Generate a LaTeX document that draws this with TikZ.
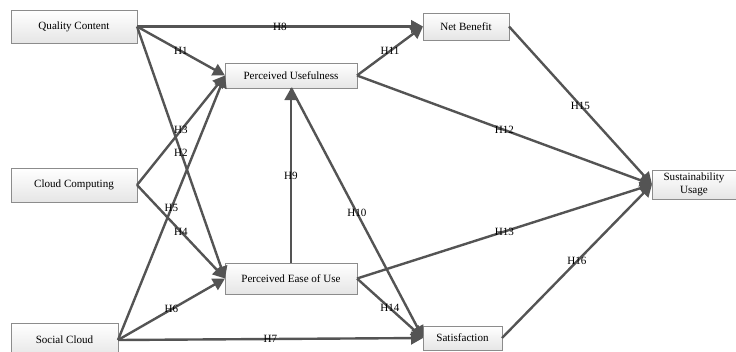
\documentclass[tikz,border=0pt]{standalone}
\usepackage{fontspec}
\setmainfont{Liberation Serif}
\usetikzlibrary{positioning,arrows.meta}

\begin{document}
\begin{tikzpicture}[
  x=0.75pt, y=-0.75pt, font=\fontsize{8.3}{9.5}\selectfont,
  construct/.style={draw=black!45, line width=0.5pt, top color=white,
    bottom color=black!10, align=center, inner sep=1pt, outer sep=0pt},
  link/.style={-{Triangle[length=9pt,width=9.5pt]}, draw=black!67,
    line width=1.8pt},
  hyp/.style={midway, inner sep=0pt, text=black}
]
% Canvas in pixels of the 736 by 351 reference.
\useasboundingbox (0,0) rectangle (736,351);

% Exogenous constructs on the left.
\node[construct, minimum width=94.5pt, minimum height=24.75pt] (qc) at (74,26.5) {Quality Content};
\node[construct, minimum width=94.5pt, minimum height=25.5pt] (cc) at (74,185) {Cloud Computing};
\node[construct, minimum width=80.25pt, minimum height=25.5pt] (sc) at (64.5,340) {Social Cloud};

% Middle constructs.
\node[construct, minimum width=99pt, minimum height=18.75pt] (pu) at (291,75.5) {Perceived Usefulness};
\node[construct, minimum width=99pt, minimum height=23.25pt] (peou) at (291,278.5) {Perceived Ease of Use};
\node[construct, minimum width=64.5pt, minimum height=20.25pt] (nb) at (466,26.5) {Net Benefit};
\node[construct, minimum width=59.25pt, minimum height=18pt] (sat) at (462.5,338) {Satisfaction};

% Outcome.
\node[construct, minimum width=63pt, minimum height=21.75pt] (su) at (694,184.5) {Sustainability\\Usage};

% Hypothesised paths.
\draw[link] (qc.east) -- (pu.west) node[hyp] {H1};
\draw[link] (qc.east) -- (peou.west) node[hyp] {H2};
\draw[link] (cc.east) -- (pu.west) node[hyp] {H3};
\draw[link] (cc.east) -- (peou.west) node[hyp] {H4};
\draw[link] (sc.east) -- (pu.west) node[hyp] {H5};
\draw[link] (sc.east) -- (peou.west) node[hyp] {H6};
\draw[link] (sc.east) -- (sat.west) node[hyp] {H7};
\draw[link] (qc.east) -- (nb.west) node[hyp] {H8};
\draw[link] (peou.north) -- (pu.south) node[hyp] {H9};
\draw[link] (pu.south) -- (sat.west) node[hyp] {H10};
\draw[link] (pu.east) -- (nb.west) node[hyp] {H11};
\draw[link] (pu.east) -- (su.west) node[hyp] {H12};
\draw[link] (peou.east) -- (su.west) node[hyp] {H13};
\draw[link] (peou.east) -- (sat.west) node[hyp] {H14};
\draw[link] (nb.east) -- (su.west) node[hyp] {H15};
\draw[link] (sat.east) -- (su.west) node[hyp] {H16};
\end{tikzpicture}
\end{document}
